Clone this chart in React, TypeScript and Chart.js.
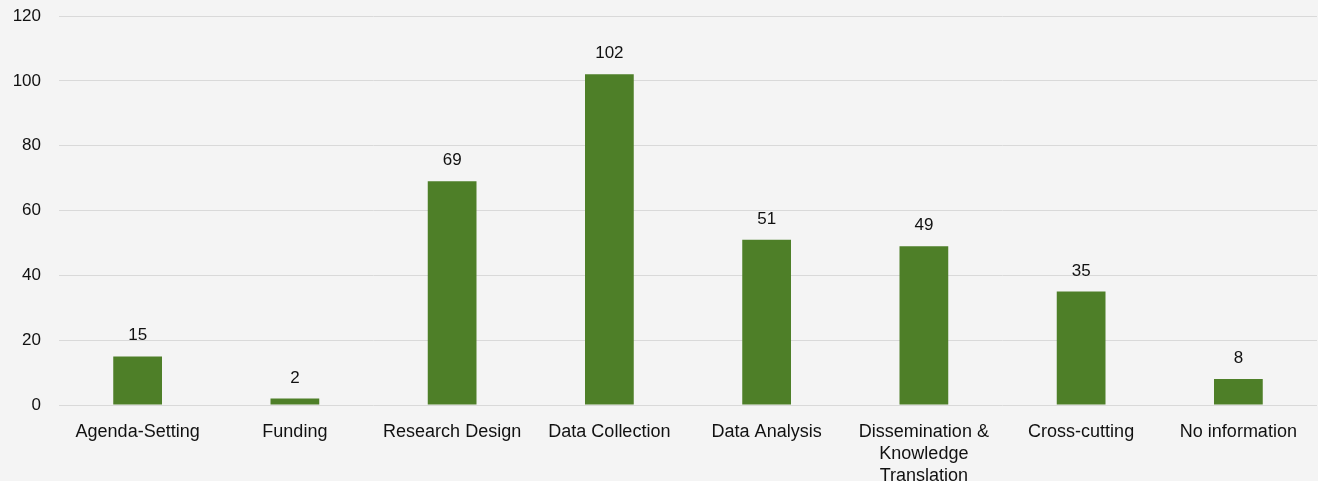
import React, { useEffect, useRef } from "react";
import { Chart, registerables } from "chart.js";

Chart.register(...registerables);

const categories: (string | string[])[] = [
  "Agenda-Setting",
  "Funding",
  "Research Design",
  "Data Collection",
  "Data Analysis",
  ["Dissemination &", "Knowledge", "Translation"],
  "Cross-cutting",
  "No information",
];
const values = [15, 2, 69, 102, 51, 49, 35, 8];
const yTicks = [0, 20, 40, 60, 80, 100, 120];

const FONT = "'Liberation Sans', Arial, Helvetica, sans-serif";

const valueLabels = {
  id: "valueLabels",
  afterDatasetsDraw(chart: any) {
    const ctx = chart.ctx;
    const meta = chart.getDatasetMeta(0);
    ctx.save();
    ctx.font = `17px ${FONT}`;
    ctx.fillStyle = "#111111";
    ctx.textAlign = "center";
    ctx.textBaseline = "alphabetic";
    meta.data.forEach((bar: any, i: number) => {
      ctx.fillText(String(values[i]), bar.x, bar.y - 16);
    });
    ctx.restore();
  },
};

export default function App() {
  const ref = useRef<HTMLCanvasElement | null>(null);
  useEffect(() => {
    if (!ref.current) return;
    const chart = new Chart(ref.current, {
      type: "bar",
      data: {
        labels: categories,
        datasets: [
          {
            data: values,
            backgroundColor: "#4e7f28",
            barPercentage: 0.31,
            categoryPercentage: 1,
          },
        ],
      },
      options: {
        animation: false,
        responsive: true,
        maintainAspectRatio: false,
        layout: { padding: { top: 16, right: 1, left: 0, bottom: 0 } },
        plugins: { legend: { display: false }, tooltip: { enabled: false } },
        scales: {
          x: {
            grid: { display: false },
            border: { display: false },
            ticks: {
              color: "#111111",
              font: { family: FONT, size: 18, lineHeight: 1.22 },
              padding: 8,
              maxRotation: 0,
              autoSkip: false,
            },
            afterFit: (s: any) => {
              s.height = 76;
              s.paddingLeft = 0;
              s.paddingRight = 0;
            },
          },
          y: {
            min: 0,
            max: 120,
            afterBuildTicks: (s: any) => {
              s.ticks = yTicks.map((v) => ({ value: v }));
            },
            grid: { color: "#d9d9d9", drawTicks: false, lineWidth: 1 },
            border: { display: false },
            ticks: {
              color: "#111111",
              font: { family: FONT, size: 17 },
              padding: 18,
            },
            afterFit: (s: any) => {
              s.width = 59;
              s.paddingTop = 0;
              s.paddingBottom = 0;
            },
          },
        },
      },
      plugins: [valueLabels],
    });
    return () => chart.destroy();
  }, []);
  return (
    <div
      style={{
        position: "fixed",
        left: 0,
        top: 0,
        width: 1318,
        height: 481,
        background: "#f4f4f4",
      }}
    >
      <canvas ref={ref} />
    </div>
  );
}
